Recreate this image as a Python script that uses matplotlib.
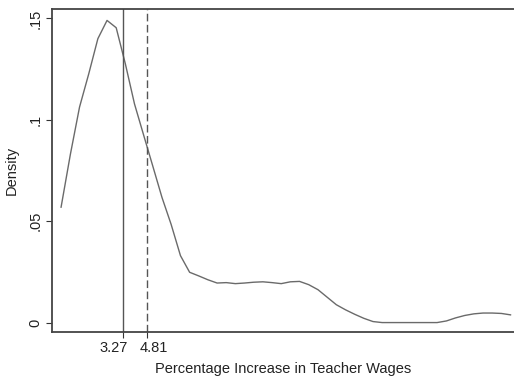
import matplotlib.pyplot as plt
from matplotlib.transforms import ScaledTranslation

# kernel density estimate of teacher wage increases (50 grid points)
grid_x = [-0.64, -0.05, 0.53, 1.11, 1.69, 2.27, 2.85, 3.43, 4.01, 4.59,
          5.17, 5.75, 6.33, 6.92, 7.50, 8.08, 8.66, 9.24, 9.82, 10.40,
          10.98, 11.56, 12.14, 12.72, 13.30, 13.88, 14.46, 15.04, 15.63, 16.21,
          16.79, 17.37, 17.95, 18.53, 19.11, 19.69, 20.27, 20.85, 21.43, 22.01,
          22.59, 23.17, 23.76, 24.34, 24.92, 25.50, 26.08, 26.66, 27.24, 27.82]
density = [0.0569, 0.0830, 0.1063, 0.1226, 0.1400, 0.1490, 0.1454, 0.1276, 0.1078, 0.0924,
           0.0771, 0.0617, 0.0484, 0.0330, 0.0248, 0.0230, 0.0211, 0.0195, 0.0197, 0.0192,
           0.0195, 0.0199, 0.0201, 0.0197, 0.0192, 0.0201, 0.0203, 0.0187, 0.0162, 0.0125,
           0.0088, 0.0063, 0.0041, 0.0021, 0.0005, 0.0, 0.0, 0.0, 0.0, 0.0,
           0.0, 0.0, 0.0008, 0.0023, 0.0035, 0.0043, 0.0047, 0.0047, 0.0045, 0.0038]

median_val = 3.27
mean_val = 4.81
y_ticks = [0, 0.05, 0.10, 0.15]
y_labels = ["0", ".05", ".1", ".15"]

plt.rcParams["font.family"] = ["Liberation Sans", "DejaVu Sans"]

fig = plt.figure(figsize=(5.14, 3.78), dpi=100)
ax = fig.add_axes([0.101, 0.1225, 0.899, 0.8535])

ax.plot(grid_x, density, color="#6a6a6a", lw=1.0)
ax.axvline(median_val, color="#555555", lw=1.0)
ax.axvline(mean_val, color="#555555", lw=1.0, dashes=(5.5, 2.5))

ax.set_xlim(-1.22, 28.04)
ax.set_ylim(-0.0045, 0.1546)

ax.set_xticks([median_val, mean_val])
ax.set_xticklabels([f"{median_val:.2f}", f"{mean_val:.2f}"])
ax.set_yticks(y_ticks)
ax.set_yticklabels(y_labels, rotation=90, va="center")

ax.tick_params(axis="both", length=4, width=0.8, color="#333333",
               labelsize=10.5, labelcolor="#222222", pad=3)

# nudge the two close x labels apart so they don't collide
for lbl, dx in zip(ax.get_xticklabels(), (-6.5, 4.5)):
    lbl.set_transform(lbl.get_transform() + ScaledTranslation(dx / 72, 0, fig.dpi_scale_trans))

for side in ("left", "bottom", "top"):
    ax.spines[side].set_color("#444444")
    ax.spines[side].set_linewidth(1.3)
ax.spines["right"].set_visible(False)

ax.set_xlabel("Percentage Increase in Teacher Wages", fontsize=10.5, color="#222222", labelpad=5)
ax.set_ylabel("Density", fontsize=10.5, color="#222222", labelpad=7)

fig.savefig("out.png", dpi=100)
